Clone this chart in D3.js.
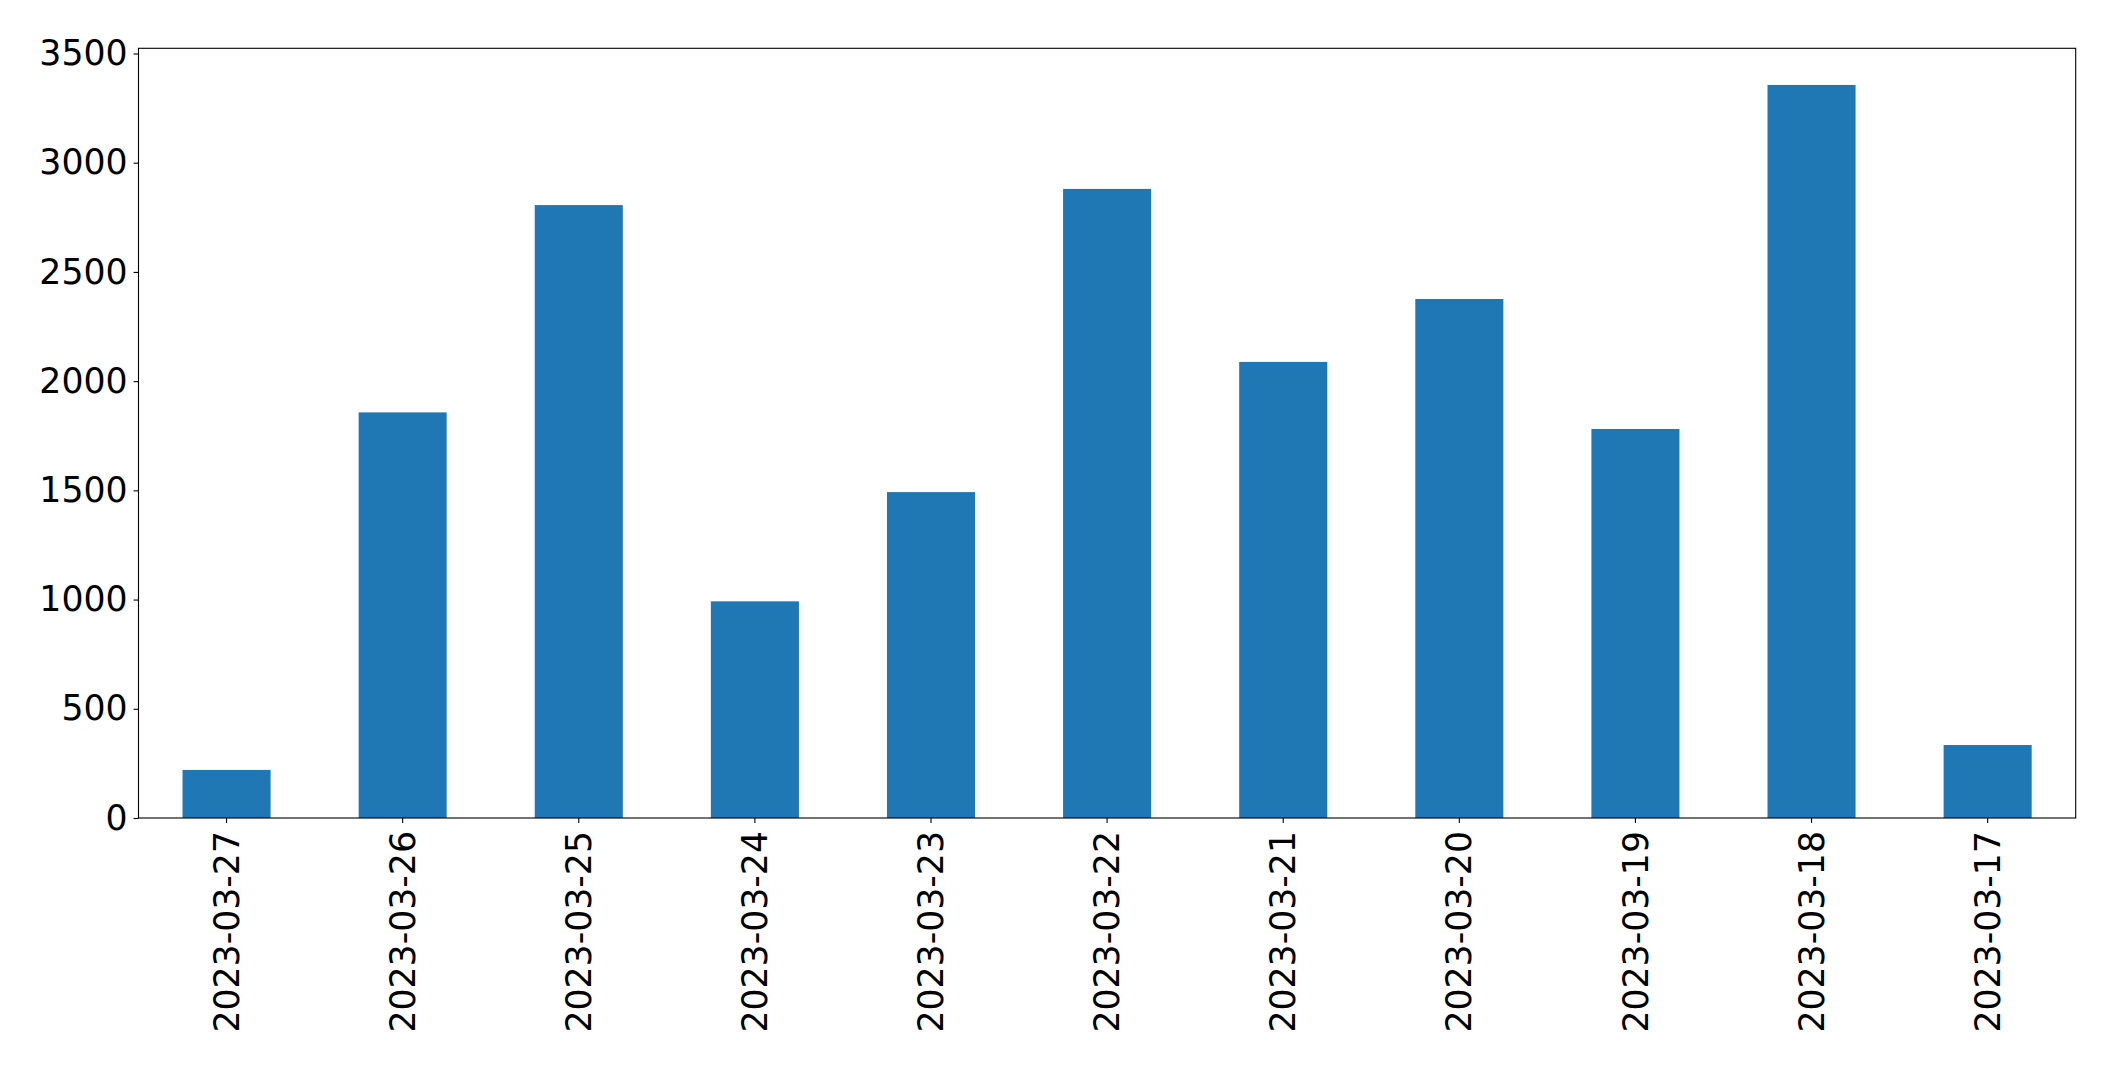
<!DOCTYPE html>
<html>
<head>
<meta charset="utf-8">
<script src="https://cdn.jsdelivr.net/npm/d3@7"></script>
<style>
  body { margin: 0; background: #fff; }
  svg { display: block; }
  .tick text { font-family: "DejaVu Sans", sans-serif; font-size: 34.7px; fill: #000; }
  .tick line { stroke: #000; stroke-width: 1.1px; }
</style>
</head>
<body>
<div id="chart"></div>
<script>
// values
var dates = ["2023-03-27", "2023-03-26", "2023-03-25", "2023-03-24", "2023-03-23", "2023-03-22",
             "2023-03-21", "2023-03-20", "2023-03-19", "2023-03-18", "2023-03-17"];
var counts = [220, 1857, 2806, 992, 1492, 2880, 2088, 2376, 1781, 3356, 334];
var yTicks = [0, 500, 1000, 1500, 2000, 2500, 3000, 3500];

var data = dates.map(function (d, i) { return {date: d, value: counts[i]}; });

var W = 2115, H = 1070;
var margin = {top: 48.3, right: 39.3, bottom: 252, left: 138.5};
var width = W - margin.left - margin.right;
var height = H - margin.top - margin.bottom;

var svg = d3.select("#chart").append("svg")
    .attr("width", W)
    .attr("height", H);

var g = svg.append("g")
    .attr("transform", "translate(" + margin.left + "," + margin.top + ")");

var x = d3.scaleBand()
    .domain(dates)
    .range([0, width])
    .paddingInner(0.5)
    .paddingOuter(0.25);

var yMax = d3.max(counts) * 1.05;
var y = d3.scaleLinear()
    .domain([0, yMax])
    .range([height, 0]);

g.selectAll(".bar")
    .data(data)
    .enter().append("rect")
    .attr("class", "bar")
    .attr("x", function (d) { return x(d.date); })
    .attr("y", function (d) { return y(d.value); })
    .attr("width", x.bandwidth())
    .attr("height", function (d) { return height - y(d.value); })
    .style("fill", "#1f77b4");

var yAxis = d3.axisLeft(y)
    .tickValues(yTicks)
    .tickFormat(d3.format("d"))
    .tickSize(4.9)
    .tickSizeOuter(0)
    .tickPadding(6);

g.append("g")
    .attr("class", "y axis")
    .call(yAxis);

var xAxis = d3.axisBottom(x)
    .tickSize(4.9)
    .tickSizeOuter(0);

var gx = g.append("g")
    .attr("class", "x axis")
    .attr("transform", "translate(0," + height + ")")
    .call(xAxis);

gx.selectAll(".tick text")
    .attr("text-anchor", "end")
    .attr("transform", "translate(0,13) rotate(-90)")
    .attr("x", 0)
    .attr("y", 0)
    .attr("dy", "0.35em");

d3.selectAll("path.domain").remove();

// frame
g.append("rect")
    .attr("width", width)
    .attr("height", height)
    .style("fill", "none")
    .style("stroke", "#000")
    .style("stroke-width", 1.1);
</script>
</body>
</html>
